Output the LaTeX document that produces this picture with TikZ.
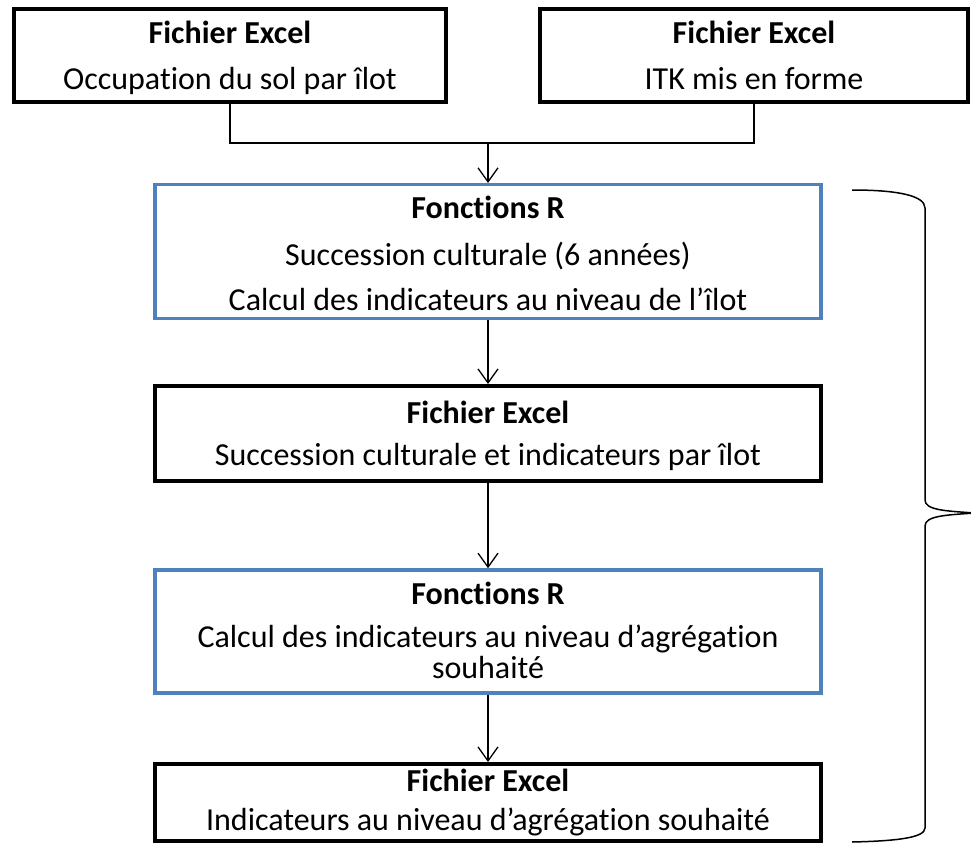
\documentclass[tikz,border=0pt]{standalone}
\usepackage{fontspec}
\setmainfont{Carlito}[Ligatures={TeX,NoCommon}]
\usetikzlibrary{arrows.meta}
\definecolor{boxblue}{HTML}{4F81BD}
\newcommand\topstr[1][5pt]{\vrule height \dimexpr .8em+#1\relax depth 0pt width 0pt}
\newcommand\botstr{\vrule height 0pt depth .25em width 0pt}
\begin{document}
\begin{tikzpicture}[x=1pt,y=-1pt,
  every node/.style={font=\fontsize{32}{31}\selectfont, align=center, inner sep=0pt},
  bbox/.style={draw=black, line width=4pt, fill=white, outer sep=2pt},
  rbox/.style={draw=boxblue, line width=3.5pt, fill=white, outer sep=1.75pt},
  link/.style={line width=1.3pt},
  arr/.style={link, -{Straight Barb[length=14pt,width=20pt]}}]
\useasboundingbox (0,0) rectangle (971,843);
\node[bbox, minimum width=432pt, minimum height=93pt] (b1) at (230,55.5)
  {\topstr\textbf{Fichier Excel}\\[15pt]Occupation du sol par îlot\botstr};
\node[bbox, minimum width=428pt, minimum height=93pt] (b2) at (754,55.5)
  {\topstr\textbf{Fichier Excel}\\[15pt]ITK mis en forme\botstr};
\node[rbox, minimum width=666pt, minimum height=133pt] (b3) at (488,251.5)
  {\topstr[8pt]\textbf{Fonctions R}\\[16pt]Succession culturale (6 années)\\[14pt]Calcul des indicateurs au niveau de l’îlot\botstr};
\node[bbox, minimum width=666pt, minimum height=95pt] (b4) at (488,433.5)
  {\topstr\textbf{Fichier Excel}\\[11pt]Succession culturale et indicateurs par îlot\botstr};
\node[rbox, minimum width=666pt, minimum height=123pt] (b5) at (488,631.5)
  {\topstr[2pt]\textbf{Fonctions R}\\[12pt]Calcul des indicateurs au niveau d’agrégation\\souhaité\botstr};
\node[bbox, minimum width=666pt, minimum height=77pt, inner ysep=-8pt] (b6) at (488,802.5)
  {\textbf{Fichier Excel}\\[8pt]Indicateurs au niveau d’agrégation souhaité};
\coordinate (j) at (488,143);
\draw[link] (b1.south) |- (j) -| (b2.south);
\draw[arr] (j) -- (b3.north);
\draw[arr] (b3.south) -- (b4.north);
\draw[arr] (b4.south) -- (b5.north);
\draw[arr] (b5.south) -- (b6.north);
\draw[line width=1.5pt] (852,190) .. controls (895,190) and (925,195) .. (925,208)
  -- (925,500) .. controls (925,510) and (945,511) .. (975,513)
  .. controls (945,515) and (925,516) .. (925,526)
  -- (925,828) .. controls (925,838) and (895,841) .. (852,842);
\end{tikzpicture}
\end{document}
